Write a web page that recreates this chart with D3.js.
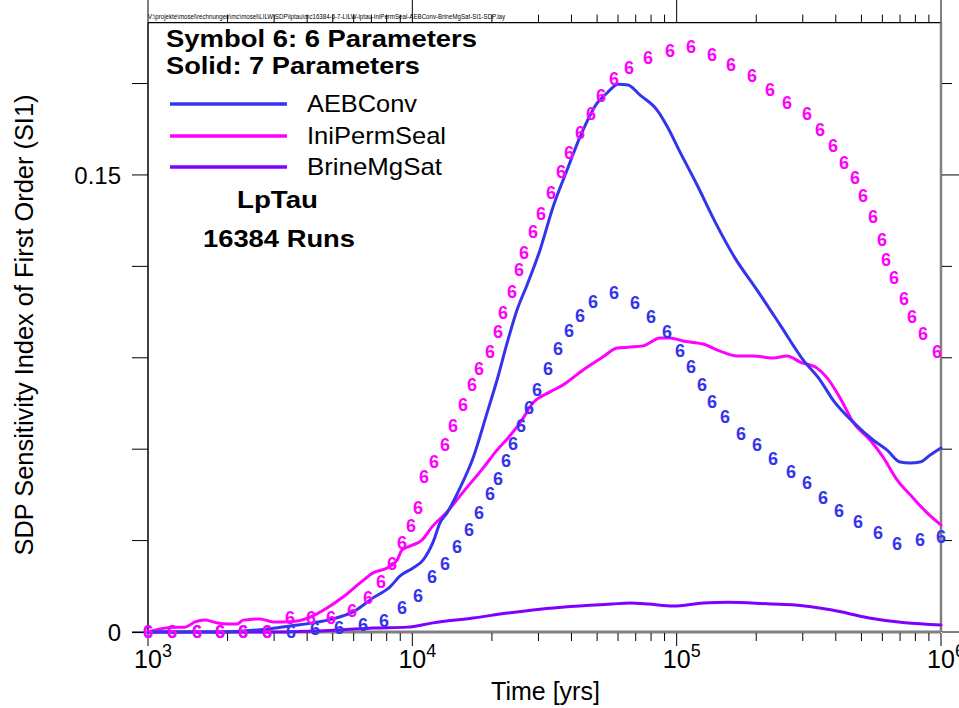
<!DOCTYPE html>
<html><head><meta charset="utf-8">
<script src="https://cdn.jsdelivr.net/npm/d3@7"></script>
<style>
body{margin:0;background:#fff}
svg{display:block}
text{font-family:"Liberation Sans",Arial,Helvetica,sans-serif}
</style></head><body>
<svg id="c" width="959" height="708"></svg>
<script>
// ---------- data ----------
const xDomain = [1e3, 1e6];
const yDomain = [0, 0.2];
const yTicks = [0, 0.03, 0.06, 0.09, 0.12, 0.15, 0.18];
const yTickLabels = [{v: 0, t: "0"}, {v: 0.15, t: "0.15"}];
const xTickLabels = [{v: 1e3, base: "10", exp: "3"}, {v: 1e4, base: "10", exp: "4"}, {v: 1e5, base: "10", exp: "5"}, {v: 1e6, base: "10", exp: "6"}];
const seriesNames = ["AEBConv", "IniPermSeal", "BrineMgSat"];
const filePath = "V:\\projekte\\mosel\\rechnungen\\mc\\mosel\\LILW\\SDP\\lptau\\mc16384-6-7-LILW-lptau-IniPermSeal-AEBConv-BrineMgSat-SI1-SDP.lay";

// Solid lines: 7 parameters  [time (yrs), SI1]
const aebConv7 = [[1000,0],[1873,0],[2288,0.0003],[2820,0.001],[3446,0.002],[4211,0.003],[5012,0.0043],[5965,0.0066],[7102,0.0112],[8233,0.0148],[8988,0.0184],[10062,0.021],[10977,0.0236],[11977,0.0295],[12727,0.0358],[13529,0.0391],[15153,0.0473],[16971,0.0571],[19173,0.0719],[20914,0.0827],[22823,0.0948],[24892,0.1057],[27164,0.1139],[30417,0.1254],[34062,0.1395],[38489,0.1516],[43102,0.1625],[49997,0.1736],[54540,0.1769],[60033,0.1798],[65493,0.1795],[72710,0.1762],[84330,0.1713],[91990,0.166],[103010,0.1575],[119480,0.1467],[139740,0.1346],[166340,0.1227],[201480,0.1122],[246200,0.1008],[300830,0.0893],[348830,0.0827],[390670,0.0761],[465040,0.0689],[553500,0.063],[625300,0.0597],[700300,0.0558],[764000,0.0555],[833700,0.0558],[909700,0.0581],[1000000,0.0604]];
const iniPermSeal7 = [[1000,0],[1110,0.001],[1243,0.0016],[1380,0.0016],[1506,0.0033],[1643,0.0039],[1824,0.003],[1990,0.0026],[2171,0.0026],[2288,0.0039],[2653,0.0043],[2972,0.0033],[3243,0.0033],[3663,0.0036],[4102,0.0049],[4757,0.0079],[5467,0.0115],[6341,0.0161],[7102,0.0194],[8020,0.021],[8755,0.0236],[9141,0.0269],[9802,0.0282],[10882,0.0302],[11872,0.0345],[13529,0.0394],[15553,0.0459],[18518,0.0538],[20914,0.0597],[23023,0.0637],[25554,0.0686],[28624,0.0752],[33189,0.0788],[37174,0.0811],[44245,0.086],[52661,0.0903],[59509,0.0932],[66650,0.0935],[74640,0.0939],[86560,0.0965],[94410,0.0965],[105730,0.0955],[125890,0.0945],[145940,0.0922],[169270,0.0906],[194540,0.0906],[231630,0.0899],[261630,0.0906],[293050,0.0886],[339800,0.0866],[370830,0.0834],[415250,0.0768],[465040,0.0689],[539240,0.063],[603900,0.0574],[682300,0.0499],[784300,0.044],[886200,0.0391],[1000000,0.0351]];
const brineMgSat7 = [[1000,0],[2972,0],[5326,0.0007],[7102,0.0013],[9550,0.0016],[11977,0.003],[16971,0.0046],[22823,0.0062],[30417,0.0075],[56960,0.0092],[66650,0.0095],[77960,0.0092],[96920,0.0085],[125890,0.0095],[156490,0.0098],[227660,0.0092],[280540,0.0089],[387260,0.0072],[534540,0.0046],[731500,0.003],[1000000,0.0023]];

// Symbol "6": 6 parameters  [time (yrs), SI1]
const aebConv6 = [[1000,0],[1233,0],[1533,0],[1873,0],[2288,0],[2820,0],[3476,0],[4285,0.001],[5281,0.0016],[6510,0.0026],[7813,0.0039],[9141,0.0079],[10510,0.0121],[11872,0.0181],[13294,0.0226],[14761,0.0279],[16388,0.0335],[17886,0.0391],[19679,0.0456],[21098,0.0505],[22624,0.0564],[24043,0.062],[25779,0.0679],[27643,0.0738],[29636,0.0797],[32614,0.0866],[35585,0.0929],[39168,0.0991],[43102,0.104],[48289,0.1083],[57983,0.1113],[69610,0.108],[80030,0.1037],[91990,0.0985],[103010,0.0925],[113380,0.087],[124790,0.0811],[136140,0.0755],[152430,0.0706],[175290,0.0653],[201480,0.0614],[231630,0.0568],[271000,0.0528],[311450,0.0489],[358080,0.044],[411640,0.04],[485760,0.0361],[578100,0.0325],[682300,0.0292],[833700,0.0302],[1000000,0.0312]];
const iniPermSeal6 = [[1000,0],[1233,0],[1533,0],[1873,0],[2288,0.0003],[2820,0],[3446,0.0049],[4138,0.0049],[4925,0.0049],[5913,0.0072],[6799,0.0112],[7612,0.0167],[8378,0.0226],[9141,0.0295],[9888,0.0348],[10510,0.0407],[11074,0.0509],[12082,0.0558],[13294,0.0614],[14256,0.0679],[15553,0.0745],[16823,0.0811],[17886,0.0866],[19679,0.0919],[21098,0.0985],[22036,0.1047],[23839,0.1116],[25331,0.1191],[26458,0.1244],[28624,0.1313],[30685,0.1375],[33481,0.1441],[36529,0.151],[39168,0.1572],[43102,0.1638],[47451,0.1703],[51761,0.1762],[57983,0.1815],[66069,0.1854],[77960,0.1887],[94410,0.191],[113380,0.192],[136140,0.1894],[160620,0.1861],[192910,0.1825],[225680,0.1779],[261630,0.1739],[311450,0.1703],[348830,0.1648],[390670,0.1598],[429970,0.1542],[473200,0.149],[507400,0.1434],[553500,0.1362],[598700,0.1287],[619900,0.1224],[664600,0.1162],[725100,0.1093],[777500,0.1037],[855700,0.0981],[966700,0.0919]];

const colors = {AEBConv: "#3434ee", IniPermSeal: "#ff00ff", BrineMgSat: "#7f00ff"};

// ---------- layout ----------
const svg = d3.select("#c");
const L = 148, R = 941, B = 632, T = 22.6;
const x = d3.scaleLog().domain(xDomain).range([L, R]);
const y = d3.scaleLinear().domain(yDomain).range([B, T]);
const FONT = '"Liberation Sans",Arial,Helvetica,sans-serif';

// frame
svg.append("line").attr("x1", L).attr("x2", R).attr("y1", T).attr("y2", T).attr("stroke", "#000").attr("stroke-width", 1.2);
svg.append("line").attr("x1", L).attr("x2", L).attr("y1", T).attr("y2", B + 1).attr("stroke", "#000").attr("stroke-width", 1.5);
svg.append("line").attr("x1", R).attr("x2", R).attr("y1", T).attr("y2", B).attr("stroke", "#808080").attr("stroke-width", 2.5);
svg.append("line").attr("x1", L).attr("x2", R).attr("y1", B).attr("y2", B).attr("stroke", "#808080").attr("stroke-width", 3);
svg.append("line").attr("x1", L - 16).attr("x2", L).attr("y1", B + 0.5).attr("y2", B + 0.5).attr("stroke", "#000").attr("stroke-width", 1.2);

// x ticks (bottom + top)
const xt = x.ticks();
const isMajor = v => Math.abs(Math.log10(v) - Math.round(Math.log10(v))) < 1e-9;
const gx = svg.append("g");
gx.selectAll("line.b").data(xt).join("line").attr("class", "b")
  .attr("x1", d => x(d)).attr("x2", d => x(d))
  .attr("y1", B + 1).attr("y2", d => isMajor(d) ? B + 14 : B + 9)
  .attr("stroke", "#000").attr("stroke-width", 1);
gx.selectAll("line.t").data(xt).join("line").attr("class", "t")
  .attr("x1", d => x(d)).attr("x2", d => x(d))
  .attr("y1", T).attr("y2", d => isMajor(d) ? 0 : T - 8)
  .attr("stroke", "#000").attr("stroke-width", 1);

// x tick labels
const gxl = svg.append("g");
gxl.selectAll("text.base").data(xTickLabels).join("text").attr("class", "base")
  .attr("x", d => x(d.v)).attr("y", 668).attr("text-anchor", "middle")
  .attr("font-size", 25).text(d => d.base);
gxl.selectAll("text.exp").data(xTickLabels).join("text").attr("class", "exp")
  .attr("x", d => x(d.v) + 14).attr("y", 657).attr("text-anchor", "start")
  .attr("font-size", 18).text(d => d.exp);

// y ticks left/right
const gy = svg.append("g");
const labeled = v => yTickLabels.some(l => Math.abs(l.v - v) < 1e-9);
gy.selectAll("line.l").data(yTicks).join("line").attr("class", "l")
  .attr("x1", L - 16).attr("x2", L).attr("y1", d => y(d)).attr("y2", d => y(d))
  .attr("stroke", "#000").attr("stroke-width", 1);
gy.selectAll("line.r").data(yTicks).join("line").attr("class", "r")
  .attr("x1", R + 1).attr("x2", d => labeled(d) ? 959 : R + 11).attr("y1", d => y(d)).attr("y2", d => y(d))
  .attr("stroke", "#000").attr("stroke-width", 1);
gy.selectAll("text").data(yTickLabels).join("text")
  .attr("x", 121).attr("y", d => y(d.v)).attr("dy", "0.36em").attr("text-anchor", "end")
  .attr("font-size", 24).text(d => d.t);

// axis titles
svg.append("text").attr("x", x(Math.sqrt(xDomain[0] * xDomain[1] * 10)) ).attr("y", 700)
  .attr("text-anchor", "middle").attr("font-size", 25).text("Time [yrs]")
  .attr("x", 545.5);
svg.append("text").attr("transform", "translate(33,325) rotate(-90)")
  .attr("text-anchor", "middle").attr("font-size", 25)
  .attr("textLength", 461).attr("lengthAdjust", "spacingAndGlyphs")
  .text("SDP Sensitivity Index of First Order (SI1)");

// file path
svg.append("text").attr("x", L).attr("y", 18.5).attr("font-size", 6.5)
  .attr("textLength", 357).attr("lengthAdjust", "spacingAndGlyphs").text(filePath);

// ---------- series ----------
const line = d3.line().x(d => x(d[0])).y(d => y(d[1])).curve(d3.curveMonotoneX);
const solid = [
  {name: "BrineMgSat", data: brineMgSat7},
  {name: "IniPermSeal", data: iniPermSeal7},
  {name: "AEBConv", data: aebConv7}
];
svg.append("g").selectAll("path").data(solid).join("path")
  .attr("d", d => line(d.data)).attr("fill", "none")
  .attr("stroke", d => colors[d.name]).attr("stroke-width", 3)
  .attr("stroke-linejoin", "round").attr("stroke-linecap", "round");

const symbols = [
  {name: "AEBConv", data: aebConv6},
  {name: "IniPermSeal", data: iniPermSeal6}
];
symbols.forEach(s => {
  svg.append("g").selectAll("text").data(s.data).join("text")
    .attr("x", d => x(d[0])).attr("y", d => y(d[1])).attr("dy", "0.36em")
    .attr("text-anchor", "middle").attr("font-size", 18).attr("font-weight", "bold")
    .attr("fill", colors[s.name]).text("6");
});

// ---------- legend & annotations ----------
const bold = [
  {t: "Symbol 6: 6 Parameters", x: 166, y: 47, w: 311},
  {t: "Solid: 7 Parameters", x: 166, y: 73.5, w: 254},
  {t: "LpTau", x: 237, y: 208, w: 81},
  {t: "16384 Runs", x: 203, y: 247, w: 152}
];
svg.append("g").selectAll("text").data(bold).join("text")
  .attr("x", d => d.x).attr("y", d => d.y).attr("font-size", 24).attr("font-weight", "bold")
  .attr("textLength", d => d.w).attr("lengthAdjust", "spacingAndGlyphs").text(d => d.t);

const legend = [
  {name: seriesNames[0], ly: 104, ty: 112, w: 110},
  {name: seriesNames[1], ly: 136, ty: 143.5, w: 139},
  {name: seriesNames[2], ly: 167, ty: 175, w: 135}
];
const lg = svg.append("g");
lg.selectAll("line").data(legend).join("line")
  .attr("x1", 170).attr("x2", 287).attr("y1", d => d.ly).attr("y2", d => d.ly)
  .attr("stroke", d => colors[d.name]).attr("stroke-width", 3.5);
lg.selectAll("text").data(legend).join("text")
  .attr("x", 307).attr("y", d => d.ty).attr("font-size", 24)
  .attr("textLength", d => d.w).attr("lengthAdjust", "spacingAndGlyphs").text(d => d.name);
</script>
</body></html>
